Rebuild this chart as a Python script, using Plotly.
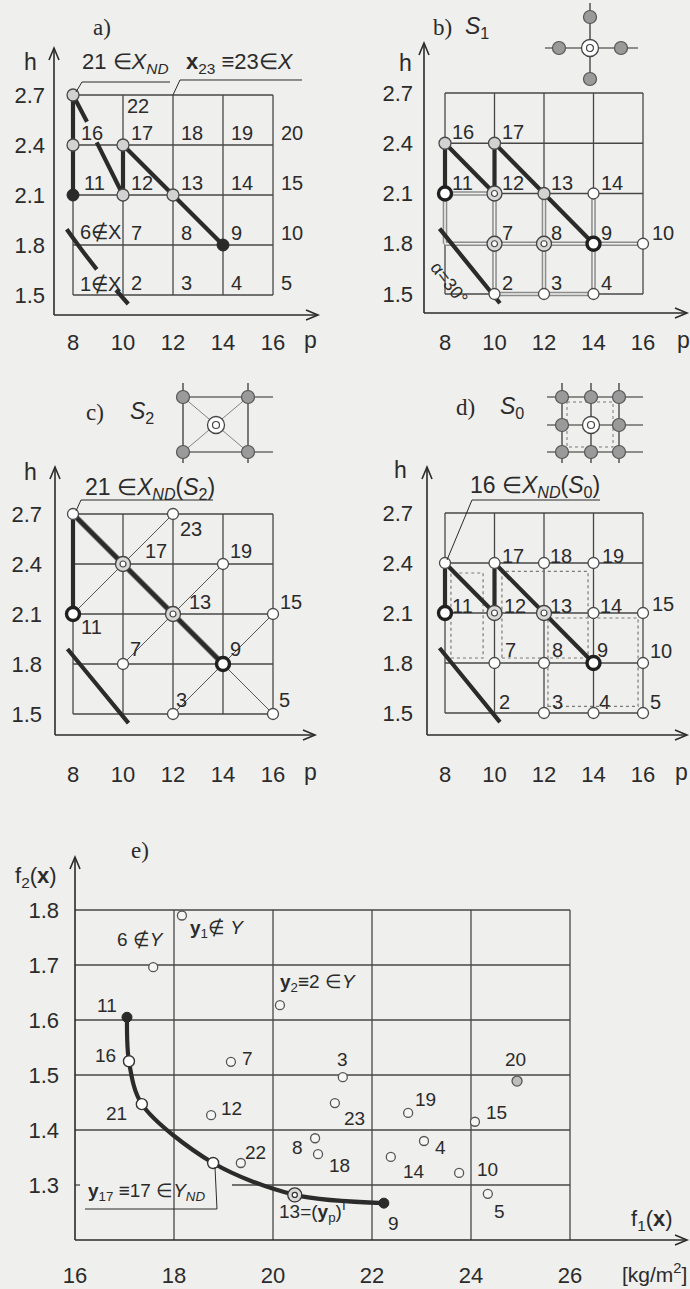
import plotly.graph_objects as go

W, H = 690, 1289
BG = "#efefed"
INK = "#2b2b2b"
GRIDC = "#474747"
SANS = "Arial, Liberation Sans, sans-serif"
SERIF = "Liberation Serif, Times New Roman, serif"

# ---- design space: p and h levels of the search grid ----
p_vals = [8, 10, 12, 14, 16]
h_vals = [1.5, 1.8, 2.1, 2.4, 2.7]
p_ticktext = ["8", "10", "12", "14", "16"]
h_ticktext = ["1.5", "1.8", "2.1", "2.4", "2.7"]

# ---- objective space: f1(x), f2(x) of solutions 1..23 ----
sol_ids = list(range(1, 24))
f1_vals = [18.16, 20.14, 21.41, 23.05, 24.34, 17.58, 19.15, 20.85, 22.24, 23.76,
           17.05, 18.75, 20.44, 22.38, 24.08, 17.09, 18.79, 20.91, 22.73, 24.93,
           17.35, 19.35, 21.25]
f2_vals = [1.790, 1.627, 1.496, 1.380, 1.284, 1.696, 1.524, 1.385, 1.267, 1.322,
           1.605, 1.427, 1.282, 1.351, 1.415, 1.525, 1.340, 1.356, 1.431, 1.489,
           1.447, 1.340, 1.449]
front_ids = [11, 16, 21, 17, 13, 9]
f1_ticks = [16, 18, 20, 22, 24, 26]
f1_ticktext = ["16", "18", "20", "22", "24", "26"]
f2_ticks = [1.3, 1.4, 1.5, 1.6, 1.7, 1.8]
f2_ticktext = ["1.3", "1.4", "1.5", "1.6", "1.7", "1.8"]

# ---- constraint boundary (alpha = 30 deg) in the (p, h) plane ----
bound_p = [7.78, 8.85, 10.22]
bound_h = [1.89, 1.695, 1.445]
bound_a1_p = [7.75, 8.35, 8.95]
bound_a1_h = [1.894, 1.77, 1.654]
bound_a2_p = [9.72, 10.21]
bound_a2_h = [1.53, 1.446]
a_stub_p = [8.0, 8.56]
a_stub_h = [2.7, 2.54]
a_diag_p = [8.95, 10.0]
a_diag_h = [2.416, 2.1]

# dotted S0 neighbourhoods in panel d: (p0, p1, h0, h1)
d_boxes = [(8.24, 9.54, 1.83, 2.34), (10.3, 13.78, 1.83, 2.35), (12.16, 15.8, 1.54, 2.07)]


def node(k):
    return p_vals[(k - 1) % 5], h_vals[(k - 1) // 5]


# panel frames: pixel position of the first/last grid value, value range,
# and axis geometry (y-axis x, x-axis y, y arrow tip, x arrow tip)
PANELS = {
    "a": dict(n="", gx=(73, 273), gy=(295, 95), xv=(8, 16), yv=(1.5, 2.7), axes=(54, 315, 48, 318),
              stand=(12, 8)),
    "b": dict(n="2", gx=(445, 643), gy=(294, 93), xv=(8, 16), yv=(1.5, 2.7), axes=(424, 313, 43, 687),
              stand=(14, 10)),
    "c": dict(n="3", gx=(73, 273), gy=(714, 514), xv=(8, 16), yv=(1.5, 2.7), axes=(55, 735, 467, 315),
              stand=(24, 12)),
    "d": dict(n="4", gx=(445, 643), gy=(713, 513), xv=(8, 16), yv=(1.5, 2.7), axes=(427, 735, 467, 687),
              stand=(24, 13)),
    "e": dict(n="5", gx=(75, 570), gy=(1240, 910), xv=(16, 26), yv=(1.2, 1.8), axes=(75, 1240, 857, 687),
              stand=(20, 15)),
}


def scale(k):
    g = PANELS[k]
    sx = (g["gx"][1] - g["gx"][0]) / (g["xv"][1] - g["xv"][0])
    sy = (g["gy"][0] - g["gy"][1]) / (g["yv"][1] - g["yv"][0])
    return sx, sy


def to_data(k, px, py):
    g = PANELS[k]
    sx, sy = scale(k)
    return g["xv"][0] + (px - g["gx"][0]) / sx, g["yv"][0] + (g["gy"][0] - py) / sy


def refs(k):
    n = PANELS[k]["n"]
    return "x" + n, "y" + n


fig = go.Figure()
shapes = []
annotations = []
layout_axes = {}

# ---------- axes ----------
for k, g in PANELS.items():
    ax_x, ax_y, tip_y, tip_x = g["axes"]
    L, R, T, B = ax_x, tip_x + 3, tip_y - 3, ax_y
    x0, y0 = to_data(k, L, B)
    x1, y1 = to_data(k, R, T)
    n = g["n"]
    if k == "e":
        xt, xtt, yt, ytt = f1_ticks, f1_ticktext, f2_ticks, f2_ticktext
    else:
        xt, xtt, yt, ytt = p_vals, p_ticktext, h_vals, h_ticktext
    tf = dict(family=SANS, size=22, color=INK)
    layout_axes["xaxis" + n] = dict(domain=[L / W, R / W], range=[x0, x1], anchor="y" + n,
                                    tickvals=xt, ticktext=xtt, showgrid=False, zeroline=False,
                                    showline=False, ticks="", tickfont=tf, automargin=False,
                                    ticklabelstandoff=g["stand"][0], fixedrange=True)
    layout_axes["yaxis" + n] = dict(domain=[1 - B / H, 1 - T / H], range=[y0, y1], anchor="x" + n,
                                    tickvals=yt, ticktext=ytt, showgrid=False, zeroline=False,
                                    showline=False, ticks="", tickfont=tf, automargin=False,
                                    ticklabelstandoff=g["stand"][1], fixedrange=True)


def ppath(pts, width=1.4, color=INK, dash=None):
    path = "M " + " L ".join(f"{x / W:.5f},{1 - y / H:.5f}" for x, y in pts)
    ln = dict(color=color, width=width)
    if dash:
        ln["dash"] = dash
    shapes.append(dict(type="path", xref="paper", yref="paper", path=path, line=ln))


def pcircle(cx, cy, r, fill, lc=INK, lw=1.2):
    shapes.append(dict(type="circle", xref="paper", yref="paper",
                       x0=(cx - r) / W, x1=(cx + r) / W, y0=1 - (cy + r) / H, y1=1 - (cy - r) / H,
                       fillcolor=fill, line=dict(color=lc, width=lw)))


def note(text, px, py, size=22, xanchor="center", family=SANS, angle=0):
    annotations.append(dict(text=text, x=px / W, y=1 - py / H, xref="paper", yref="paper",
                            showarrow=False, xanchor=xanchor, yanchor="middle", textangle=angle,
                            font=dict(family=family, size=size, color=INK)))


def node_note(k, x, y, text, dx, dy, xanchor="left", size=20):
    xr, yr = refs(k)
    annotations.append(dict(text=text, x=x, y=y, xref=xr, yref=yr, xshift=dx, yshift=-dy,
                            showarrow=False, xanchor=xanchor, yanchor="middle",
                            font=dict(family=SANS, size=size, color=INK)))


def add_lines(k, xs, ys, width=4.2, color=INK, spline=False):
    xr, yr = refs(k)
    ln = dict(width=width, color=color)
    if spline:
        ln.update(shape="spline", smoothing=0.9)
    fig.add_trace(go.Scatter(x=xs, y=ys, mode="lines", line=ln, xaxis=xr, yaxis=yr,
                             hoverinfo="skip", showlegend=False))


def node_path(k, ids, **kw):
    add_lines(k, [node(i)[0] for i in ids], [node(i)[1] for i in ids], **kw)


MK = {
    "light": dict(size=12, color="#d2d2d2", line=dict(width=1.3, color="#4a4a4a")),
    "open": dict(size=11, color="#ffffff", line=dict(width=1.3, color="#4a4a4a")),
    "dark": dict(size=12, color="#2a2a2a", line=dict(width=1, color="#2a2a2a")),
    "ring": dict(size=13, color="#ffffff", line=dict(width=3.4, color="#202020")),
    "outer": dict(size=15, color="#d8d8d8", line=dict(width=1.3, color="#444444")),
    "inner": dict(size=6, color="#ffffff", line=dict(width=1.2, color="#444444")),
}


def add_markers(k, xs, ys, style):
    xr, yr = refs(k)
    styles = ["outer", "inner"] if style == "double" else [style]
    for s in styles:
        fig.add_trace(go.Scatter(x=xs, y=ys, mode="markers", marker=dict(symbol="circle", **MK[s]),
                                 xaxis=xr, yaxis=yr, hoverinfo="skip", showlegend=False))


def node_markers(k, ids, style):
    add_markers(k, [node(i)[0] for i in ids], [node(i)[1] for i in ids], style)


# axis lines with open arrow heads
for k, g in PANELS.items():
    ax_x, ax_y, tip_y, tip_x = g["axes"]
    ppath([(ax_x, ax_y), (ax_x, tip_y)], width=1.6)
    ppath([(ax_x, ax_y), (tip_x, ax_y)], width=1.6)
    ppath([(ax_x - 5, tip_y + 12), (ax_x, tip_y), (ax_x + 5, tip_y + 12)], width=1.6)
    ppath([(tip_x - 12, ax_y - 5), (tip_x, ax_y), (tip_x - 12, ax_y + 5)], width=1.6)

# design grids
for k in "abcd":
    xr, yr = refs(k)
    for p in p_vals:
        shapes.append(dict(type="line", xref=xr, yref=yr, x0=p, x1=p, y0=h_vals[0], y1=h_vals[-1],
                           line=dict(color=GRIDC, width=1.3), layer="below"))
    for h in h_vals:
        shapes.append(dict(type="line", xref=xr, yref=yr, x0=p_vals[0], x1=p_vals[-1], y0=h, y1=h,
                           line=dict(color=GRIDC, width=1.3), layer="below"))

# ---------- panel a ----------
node_path("a", [21, 11])
add_lines("a", a_stub_p, a_stub_h)
add_lines("a", a_diag_p, a_diag_h)
node_path("a", [17, 12])
node_path("a", [17, 13, 9])
add_lines("a", bound_a1_p, bound_a1_h, spline=True)
add_lines("a", bound_a2_p, bound_a2_h)
node_markers("a", [21, 16, 17, 12, 13], "light")
node_markers("a", [11, 9], "dark")
for n_ in [16, 17, 18, 19, 20, 11, 12, 13, 14, 15, 7, 8, 9, 10, 2, 3, 4, 5]:
    x, y = node(n_)
    node_note("a", x, y, str(n_), 6 if n_ != 11 else 9, -12)
node_note("a", *node(6), "6∉X", 5, -13)
node_note("a", *node(1), "1∉X", 5, -11)
node_note("a", *node(22), "22", 2, 11)
note("a)", 102, 27, size=23, family=SERIF)
note("h", 30, 62, size=23)
note("p", 310, 340, size=23)
note("21 ∈<i>X</i><sub><i>ND</i></sub>", 80, 63, size=22, xanchor="left")
note("<b>x</b><sub>23</sub> ≡23∈<i>X</i>", 184, 63, size=22, xanchor="left")
ppath([(76, 92), (82, 82), (170, 82)], width=1.0)
ppath([(173, 95), (180, 80), (302, 80)], width=1.0)

# ---------- panel b ----------
b_double = [(11, 6), (6, 7), (7, 8), (8, 9), (9, 10), (12, 7), (7, 2), (13, 8), (8, 3),
            (14, 9), (9, 4), (11, 12), (2, 3), (3, 4)]
for a_, b_ in b_double:
    node_path("b", [a_, b_], width=4.6, color="#8c8c8c")
for a_, b_ in b_double:
    node_path("b", [a_, b_], width=1.6, color=BG)
node_path("b", [16, 11])
node_path("b", [16, 12])
node_path("b", [17, 12])
node_path("b", [17, 13, 9])
add_lines("b", bound_p, bound_h, spline=True)
node_markers("b", [16, 17, 13], "light")
node_markers("b", [14, 10, 2, 3, 4], "open")
node_markers("b", [12, 7, 8], "double")
node_markers("b", [11, 9], "ring")
for n_ in [16, 17, 11, 12, 13, 14, 7, 8, 9, 2, 3, 4]:
    node_note("b", *node(n_), str(n_), 5, -11)
node_note("b", *node(10), "10", 7, -11)
note("α=30°", 449, 283, size=18, angle=52)
note("b)", 442, 27, size=23, family=SERIF)
note("<i>S</i><sub>1</sub>", 477, 27, size=23)
note("h", 405, 63, size=23)
note("p", 683, 340, size=23)
# S1 neighbourhood glyph
ppath([(545, 48), (638, 48)], width=1.2)
ppath([(590, 3), (590, 85)], width=1.2)
for cx, cy in [(559, 48), (621, 48), (590, 17), (590, 79)]:
    pcircle(cx, cy, 6.5, "#9a9a9a", lc="#555")
pcircle(590, 48, 8.5, "#ffffff", lc="#444", lw=1.3)
pcircle(590, 48, 3.5, "#ffffff", lc="#444", lw=1.2)

# ---------- panel c ----------
for ids in ([11, 17, 23], [7, 13, 19], [3, 9, 15], [9, 5]):
    node_path("c", ids, width=1.0, color="#555555")
node_path("c", [21, 11])
node_path("c", [21, 17, 13, 9], width=6, color="#8a8a8a")
node_path("c", [21, 17, 13, 9], width=4.2)
add_lines("c", bound_p, bound_h, spline=True)
node_markers("c", [21, 23, 19, 15, 7, 3, 5], "open")
node_markers("c", [17, 13], "double")
node_markers("c", [11, 9], "ring")
for n_, dx, dy in [(23, 5, 15), (17, 20, -13), (19, 5, -13), (13, 14, -12), (15, 5, -12),
                   (11, 6, 13), (7, 5, -15), (9, 5, -15), (3, 1, -14), (5, 4, -14)]:
    node_note("c", *node(n_), str(n_), dx, dy)
note("c)", 95, 412, size=23, family=SERIF)
note("<i>S</i><sub>2</sub>", 142, 412, size=23)
note("h", 30, 472, size=23)
note("p", 310, 772, size=23)
note("21 ∈<i>X</i><sub><i>ND</i></sub>(<i>S</i><sub>2</sub>)", 83, 488, size=23, xanchor="left")
ppath([(76, 511), (81, 500), (213, 500)], width=1.0)
# S2 neighbourhood glyph
ppath([(178, 397), (273, 397)], width=1.2)
ppath([(178, 452), (273, 452)], width=1.2)
ppath([(183, 383), (183, 463)], width=1.2)
ppath([(248, 383), (248, 463)], width=1.2)
ppath([(183, 397), (248, 452)], width=0.8, color="#666")
ppath([(183, 452), (248, 397)], width=0.8, color="#666")
for cx, cy in [(183, 397), (248, 397), (183, 452), (248, 452)]:
    pcircle(cx, cy, 6.5, "#9a9a9a", lc="#555")
pcircle(216, 425, 8.5, "#ffffff", lc="#444", lw=1.3)
pcircle(216, 425, 3.5, "#ffffff", lc="#444", lw=1.2)

# ---------- panel d ----------
xr_d, yr_d = refs("d")
for p0, p1, h0, h1 in d_boxes:
    shapes.append(dict(type="rect", xref=xr_d, yref=yr_d, x0=p0, x1=p1, y0=h0, y1=h1,
                       line=dict(color="#7a7a7a", width=1.2, dash="dot"), layer="below"))
node_path("d", [16, 11])
node_path("d", [16, 12])
node_path("d", [17, 12])
node_path("d", [17, 13, 9])
add_lines("d", bound_p, bound_h, spline=True)
node_markers("d", [16, 17, 18, 19, 14, 15, 7, 8, 10, 3, 4, 5], "open")
node_markers("d", [12, 13], "double")
node_markers("d", [11, 9], "ring")
for n_, dx, dy in [(17, 5, -7), (18, 4, -7), (19, 6, -7), (11, 5, -7), (12, 7, -7), (13, 4, -7),
                   (14, 4, -7), (15, 7, -9), (7, 8, -13), (8, 6, -13), (9, 1, -13), (10, 5, -12),
                   (2, 2, -11), (3, 6, -11), (4, 3, -11), (5, 5, -11)]:
    node_note("d", *node(n_), str(n_), dx, dy)
note("d)", 465, 407, size=23, family=SERIF)
note("<i>S</i><sub>0</sub>", 512, 407, size=23)
note("h", 400, 470, size=23)
note("p", 681, 772, size=23)
note("16 ∈<i>X</i><sub><i>ND</i></sub>(<i>S</i><sub>0</sub>)", 468, 487, size=23, xanchor="left")
ppath([(447, 560), (472, 500), (600, 500)], width=1.0)
# S0 neighbourhood glyph
cols = [562, 591, 619]
rows = [397, 425, 452]
for cy in rows:
    ppath([(547, cy), (643, cy)], width=1.2)
for cx in cols:
    ppath([(cx, 383), (cx, 463)], width=1.2)
ppath([(567, 402), (613, 402), (613, 447), (567, 447), (567, 402)], width=1.0, color="#777", dash="dot")
for cx in cols:
    for cy in rows:
        if (cx, cy) != (591, 425):
            pcircle(cx, cy, 6.5, "#9a9a9a", lc="#555")
pcircle(591, 425, 8.5, "#ffffff", lc="#444", lw=1.3)
pcircle(591, 425, 3.5, "#ffffff", lc="#444", lw=1.2)

# ---------- panel e: objective space ----------
xr_e, yr_e = refs("e")
x_left, _ = to_data("e", 68, 0)
_, y_low = to_data("e", 0, 1248)
for v in f1_ticks[1:]:
    shapes.append(dict(type="line", xref=xr_e, yref=yr_e, x0=v, x1=v, y0=y_low, y1=f2_ticks[-1],
                       line=dict(color=GRIDC, width=1.3), layer="below"))
gap0, _ = to_data("e", 80, 0)
gap1, _ = to_data("e", 232, 0)
for v in f2_ticks:
    segs = [(x_left, f1_ticks[-1])] if v != 1.3 else [(x_left, gap0), (gap1, f1_ticks[-1])]
    for s0, s1 in segs:
        shapes.append(dict(type="line", xref=xr_e, yref=yr_e, x0=s0, x1=s1, y0=v, y1=v,
                           line=dict(color=GRIDC, width=1.3), layer="below"))

idx = {s: i for i, s in enumerate(sol_ids)}
fx = [f1_vals[idx[s]] for s in front_ids]
fy = [f2_vals[idx[s]] for s in front_ids]
add_lines("e", fx, fy, width=4.2, spline=True)


def e_markers(ids, **marker):
    fig.add_trace(go.Scatter(x=[f1_vals[idx[s]] for s in ids], y=[f2_vals[idx[s]] for s in ids],
                             mode="markers", xaxis=xr_e, yaxis=yr_e, hoverinfo="skip",
                             showlegend=False, marker=marker))


others = [s for s in sol_ids if s not in front_ids and s != 20]
e_markers(others, size=9, color="#f6f6f4", line=dict(width=1.3, color="#555"))
e_markers([20], size=10, color="#bdbdbd", line=dict(width=1.3, color="#555"))
e_markers([16, 21, 17], size=11, color="#ffffff", line=dict(width=1.4, color="#333"))
e_markers([11, 9], size=10, color="#2a2a2a", line=dict(width=1, color="#2a2a2a"))
e_markers([13], size=14, color="#d8d8d8", line=dict(width=1.3, color="#333"))
e_markers([13], size=5, color="#ffffff", line=dict(width=1.3, color="#333"))

e_labels = [
    (1, "<b>y</b><sub>1</sub>∉ <i>Y</i>", 6, 13, "left"),
    (6, "6 ∉<i>Y</i>", -13, -28, "center"),
    (2, "<b>y</b><sub>2</sub>≡2 ∈<i>Y</i>", -2, -22, "left"),
    (11, "11", -20, -12, "center"),
    (16, "16", -11, -6, "right"),
    (21, "21", -13, 9, "right"),
    (7, "7", 9, -3, "left"),
    (12, "12", 8, -7, "left"),
    (22, "22", 2, -11, "left"),
    (8, "8", -10, 9, "right"),
    (18, "18", 9, 11, "left"),
    (3, "3", 0, -18, "center"),
    (23, "23", 7, 15, "left"),
    (9, "9", 10, 20, "center"),
    (19, "19", 5, -13, "left"),
    (4, "4", 9, 6, "left"),
    (14, "14", 10, 15, "left"),
    (10, "10", 16, -3, "left"),
    (15, "15", 9, -9, "left"),
    (5, "5", 12, 18, "center"),
    (20, "20", -2, -22, "center"),
    (13, "13=(<b>y</b><sub>p</sub>)<sup>I</sup>", -18, 17, "left"),
]
for s, txt, dx, dy, anc in e_labels:
    node_note("e", f1_vals[idx[s]], f2_vals[idx[s]], txt, dx, dy, xanchor=anc, size=19)
note("<b>y</b><sub>17</sub> ≡17 ∈<i>Y</i><sub><i>ND</i></sub>", 86, 1192, size=19, xanchor="left")
ppath([(215, 1167), (217, 1209), (85, 1209)], width=1.0)
note("e)", 140, 850, size=23, family=SERIF)
note("f<sub>2</sub>(<b>x</b>)", 36, 877, size=22)
note("f<sub>1</sub>(<b>x</b>)", 652, 1220, size=22)
note("[kg/m<sup>2</sup>]", 654, 1273, size=21)

fig.update_layout(width=W, height=H, margin=dict(l=0, r=0, t=0, b=0),
                  paper_bgcolor=BG, plot_bgcolor="rgba(0,0,0,0)", showlegend=False,
                  shapes=shapes, annotations=annotations, **layout_axes)
fig.write_html("out.html")
